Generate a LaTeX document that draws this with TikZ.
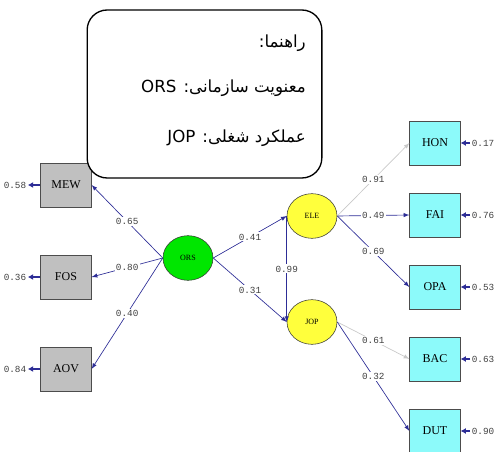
\documentclass[tikz,border=0pt]{standalone}
\usepackage{fontspec}
\setmainfont{Liberation Serif}
\newfontfamily\numfont{Liberation Mono}
\newfontfamily\arabicfont[Script=Arabic]{DejaVu Sans}
\TeXXeTstate=1
\usetikzlibrary{shapes}
\usetikzlibrary{positioning}
\usetikzlibrary{arrows.meta}
\definecolor{pathblue}{RGB}{45,45,150}
\definecolor{pathgray}{RGB}{200,200,200}
\definecolor{boxgray}{RGB}{192,192,192}
\definecolor{boxcyan}{RGB}{140,250,250}
\definecolor{ellgreen}{RGB}{0,230,0}
\definecolor{ellyellow}{RGB}{255,255,60}
\tikzset{
    mynodeg/.style = {rectangle, draw=black!70, fill=boxgray, minimum width=38pt, minimum height=33pt, inner sep=0pt, font=\fontsize{9}{10}\selectfont},
    mynodec/.style = {rectangle, draw=black!70, fill=boxcyan, minimum width=38pt, minimum height=33pt, inner sep=0pt, font=\fontsize{9}{10}\selectfont},
    mynodegr/.style = {ellipse, draw=black!80, fill=ellgreen, minimum width=37.5pt, minimum height=33.5pt, inner sep=0pt, font=\fontsize{6}{7}\selectfont},
    mynodey/.style = {ellipse, draw=black!80, fill=ellyellow, minimum width=37.5pt, minimum height=33.5pt, inner sep=0pt, font=\fontsize{6}{7}\selectfont},
    edgen/.style = {-latex, line width=0.5pt, pathblue},
    edgeg/.style = {-latex, line width=0.5pt, pathgray},
    edgee/.style = {-{Latex[length=4pt,width=4.5pt]}, line width=1.3pt, pathblue},
    coef/.style = {fill=white, inner sep=1pt, text=black!75, font=\numfont\fontsize{7}{8}\selectfont},
    errv/.style = {inner sep=1pt, text=black!75, font=\numfont\fontsize{7}{8}\selectfont},
    legline/.style = {anchor=east, inner sep=0pt, font=\arabicfont\fontsize{12.5}{14}\selectfont}
}
\begin{document}
\begin{tikzpicture}[x=0.75pt,y=-0.75pt]
\path[use as bounding box] (0,0) rectangle (497,452);

% observed variables, left
\node[mynodeg] at (66,185) (MEW) {MEW};
\node[mynodeg] at (66,277) (FOS) {FOS};
\node[mynodeg] at (66,369) (AOV) {AOV};
% observed variables, right
\node[mynodec] at (435,143) (HON) {HON};
\node[mynodec] at (435,215) (FAI) {FAI};
\node[mynodec] at (435,287) (OPA) {OPA};
\node[mynodec] at (435,359) (BAC) {BAC};
\node[mynodec] at (435,431) (DUT) {DUT};
% latent variables
\node[mynodegr] at (188,258) (ORS) {ORS};
\node[mynodey] at (312,216) (ELE) {ELE};
\node[mynodey] at (312,322) (JOP) {JOP};

% error variances
\node[errv] at (15,185) (eMEW) {0.58};
\node[errv] at (15,277) (eFOS) {0.36};
\node[errv] at (15,369) (eAOV) {0.84};
\node[errv] at (483,143) (eHON) {0.17};
\node[errv] at (483,215) (eFAI) {0.76};
\node[errv] at (483,287) (eOPA) {0.53};
\node[errv] at (483,359) (eBAC) {0.63};
\node[errv] at (483,431) (eDUT) {0.90};
\draw[edgee] (MEW.west) -- (eMEW.east);
\draw[edgee] (FOS.west) -- (eFOS.east);
\draw[edgee] (AOV.west) -- (eAOV.east);
\draw[edgee] (eHON.west) -- (HON.east);
\draw[edgee] (eFAI.west) -- (FAI.east);
\draw[edgee] (eOPA.west) -- (OPA.east);
\draw[edgee] (eBAC.west) -- (BAC.east);
\draw[edgee] (eDUT.west) -- (DUT.east);

% paths
\draw[edgen] (ORS.west) -- node[coef] {0.65} (MEW.east);
\draw[edgen] (ORS.west) -- node[coef] {0.80} (FOS.east);
\draw[edgen] (ORS.west) -- node[coef] {0.40} (AOV.east);
\draw[edgen] (ORS.east) -- node[coef] {0.41} (ELE.west);
\draw[edgen] (ORS.east) -- node[coef] {0.31} (JOP.west);
\draw[edgen] (ELE.west) -- node[coef] {0.99} (JOP.west);
\draw[edgeg] (ELE.east) -- node[coef] {0.91} (HON.west);
\draw[edgen] (ELE.east) -- node[coef] {0.49} (FAI.west);
\draw[edgen] (ELE.east) -- node[coef] {0.69} (OPA.west);
\draw[edgeg] (JOP.east) -- node[coef] {0.61} (BAC.west);
\draw[edgen] (JOP.east) -- node[coef] {0.32} (DUT.west);

% legend
\node[draw=black, line width=1pt, fill=white, rounded corners=15pt, minimum width=176pt, minimum height=126pt] at (204.5,94) (legend) {};
\node[legline] at (306,43) (leg1) {\beginR راهنما:\endR};
\node[legline] at (306,88) (leg2) {\beginR معنویت سازمانی: \beginL ORS\endL\endR};
\node[legline] at (306,138) (leg3) {\beginR عملکرد شغلی: \beginL JOP\endL\endR};

\end{tikzpicture}
\end{document}
